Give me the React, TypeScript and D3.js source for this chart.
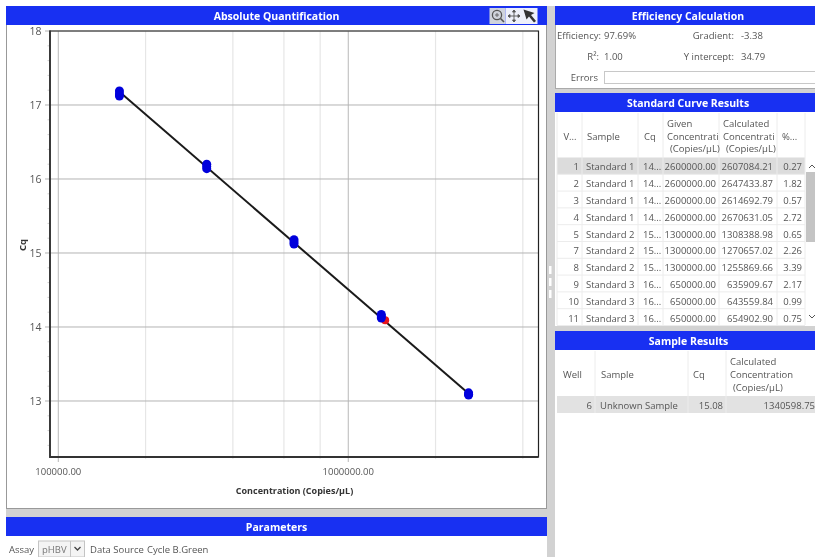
import React from "react";
import * as d3 from "d3";

const BLUE = "#1830f2";
const xMajorTicks = [100000, 1000000];
const xMinorTicks = [200000, 400000, 600000, 800000, 2000000, 4000000];
const yTicks = [13, 14, 15, 16, 17, 18];
const yMinorTicks = [12.4, 12.6, 12.8, 13.2, 13.4, 13.6, 13.8, 14.2, 14.4, 14.6, 14.8, 15.2, 15.4, 15.6, 15.8, 16.2, 16.4, 16.6, 16.8, 17.2, 17.4, 17.6, 17.8];
const standardConc = [162500, 162500, 162500, 325000, 325000, 325000, 650000, 650000, 650000, 1300000, 1300000, 1300000, 2600000, 2600000, 2600000];
const standardCq = [17.19, 17.15, 17.12, 16.2, 16.17, 16.14, 15.18, 15.15, 15.12, 14.17, 14.15, 14.12, 13.11, 13.09, 13.08];
const unknownConc = [1340598.75];
const unknownCq = [14.09];
const fitConc = [162500, 2600000];
const fitCq = [17.18, 13.1];

const stdHeaders: [string[], number][] = [
  [["V..."], 570],
  [["Sample"], 587],
  [["Cq"], 644],
  [["Given", "Concentrati", "(Copies/µL)"], 667],
  [["Calculated", "Concentrati", "(Copies/µL)"], 723],
  [["%..."], 782],
];
const wells = ["1", "2", "3", "4", "5", "7", "8", "9", "10", "11"];
const samples = ["Standard 1", "Standard 1", "Standard 1", "Standard 1", "Standard 2", "Standard 2", "Standard 2", "Standard 3", "Standard 3", "Standard 3"];
const cqs = ["14...", "14...", "14...", "14...", "15...", "15...", "15...", "16...", "16...", "16..."];
const given = ["2600000.00", "2600000.00", "2600000.00", "2600000.00", "1300000.00", "1300000.00", "1300000.00", "650000.00", "650000.00", "650000.00"];
const calculated = ["2607084.21", "2647433.87", "2614692.79", "2670631.05", "1308388.98", "1270657.02", "1255869.66", "635909.67", "643559.84", "654902.90"];
const percent = ["0.27", "1.82", "0.57", "2.72", "0.65", "2.26", "3.39", "2.17", "0.99", "0.75"];
const colEdges = [557, 582, 638, 663, 719, 777, 805];

const FONT = "'Open Sans', 'Noto Sans', sans-serif";
const TXT = "#555";

function Header({ x, y, w, h, label, cx }: { x: number; y: number; w: number; h: number; label: string; cx?: number }) {
  return (
    <g>
      <rect x={x} y={y} width={w} height={h} fill={BLUE} />
      <text x={cx ?? x + w / 2} y={y + h / 2 + 4} textAnchor="middle" fontWeight={700} fontSize={10.5} fill="#fff">{label}</text>
    </g>
  );
}

export default function App() {
  const L = 50, R = 538.5, T = 31, B = 457;
  const x = d3.scaleLog().domain([93630, 4530000]).range([L, R]);
  const y = d3.scaleLinear().domain([12.243, 18]).range([B, T]);
  const fit = d3.line<number>().x((d) => x(fitConc[d])).y((d) => y(fitCq[d]));
  const rowY = (i: number) => 157.5 + i * 16.8;
  return (
    <svg width={815} height={557} viewBox="0 0 815 557" fontFamily={FONT} fontSize={9.5} fill={TXT}
      style={{ position: "fixed", left: 0, top: 0, filter: "blur(0.35px)" }}>
      <rect width={815} height={557} fill="#d2d2d2" />
      <rect x={0} y={0} width={815} height={6} fill="#fff" />
      <rect x={0} y={0} width={6} height={557} fill="#fff" />

      {/* left chart panel */}
      <rect x={6.5} y={6.5} width={540} height={502} fill="#fff" stroke="#999" />
      <Header x={6} y={6} w={541} h={19} label="Absolute Quantification" />
      <g>
        <rect x={489.5} y={8} width={16} height={16} fill="#cfd3dc" />
        <rect x={505.5} y={8} width={32} height={16} fill="#eef0fa" />
        <circle cx={497} cy={15} r={4.6} fill="none" stroke="#555" strokeWidth={1.3} />
        <path d="M495 15h4M497 13v4" stroke="#555" strokeWidth={0.8} />
        <path d="M500.5 18.5l3.5 3.5" stroke="#555" strokeWidth={1.6} />
        <path d="M508 16h12M514 10v12M508 16l2-1.5v3zM520 16l-2-1.5v3zM514 10l-1.5 2h3zM514 22l-1.5-2h3z" stroke="#555" strokeWidth={0.9} fill="#555" />
        <path d="M523.5 9.5l11 3.5-3.5 2 5 6-2 1.5-5-6-2.5 3z" fill="#333" />
      </g>

      {xMinorTicks.map((t) => <line key={t} x1={x(t)} x2={x(t)} y1={T} y2={B + 2} stroke="#e6e6e6" strokeWidth={1.2} />)}
      {xMajorTicks.map((t) => <line key={t} x1={x(t)} x2={x(t)} y1={T} y2={B + 5} stroke="#b8b8b8" strokeWidth={1} />)}
      {yTicks.map((t) => <line key={t} x1={L - 5} x2={R} y1={y(t)} y2={y(t)} stroke="#b4b4b4" strokeWidth={1} />)}
      {yMinorTicks.map((t) => <line key={t} x1={L - 2.5} x2={L} y1={y(t)} y2={y(t)} stroke="#bbb" strokeWidth={0.7} />)}
      <path d={`M${L} ${T}H${R}V${B}H${L}Z`} fill="none" stroke="#222" strokeWidth={1.2} />
      <path d={`M${L} ${T - 0.5}V${B}H${R}`} fill="none" stroke="#333" strokeWidth={1.8} />

      {yTicks.map((t) => <text key={t} x={41.5} y={y(t) + 4} textAnchor="end" fontSize={10.5}>{t}</text>)}
      {xMajorTicks.map((t) => <text key={t} x={x(t)} y={475} textAnchor="middle" fontSize={9.5}>{t.toFixed(2)}</text>)}
      <text x={294.5} y={494} textAnchor="middle" fontWeight={700} fontSize={9} fill="#333">Concentration (Copies/µL)</text>
      <text transform="translate(26,245) rotate(-90)" textAnchor="middle" fontWeight={700} fontSize={9.5} fill="#333">Cq</text>

      <path d={fit([0, 1]) ?? ""} fill="none" stroke="#1a1a1a" strokeWidth={2} />
      {unknownConc.map((c, i) => <circle key={i} cx={x(c)} cy={y(unknownCq[i])} r={4} fill="#e8141c" />)}
      {standardConc.map((c, i) => <circle key={i} cx={x(c)} cy={y(standardCq[i])} r={4.5} fill="#0000dc" />)}

      {/* parameters panel */}
      <rect x={6} y={517} width={541} height={40} fill="#fff" />
      <Header x={6} y={517} w={541} h={19} label="Parameters" />
      <text x={9} y={553}>Assay</text>
      <rect x={38.5} y={541} width={46} height={16} fill="#f4f4f4" stroke="#c4c4c4" />
      <line x1={70.5} x2={70.5} y1={541} y2={557} stroke="#c4c4c4" />
      <text x={42} y={553} fill="#777">pHBV</text>
      <path d="M74.5 547l3 3 3-3" fill="none" stroke="#444" strokeWidth={1.3} />
      <text x={90} y={553}>Data Source</text>
      <text x={147} y={553}>Cycle B.Green</text>

      {/* efficiency panel */}
      <rect x={555.5} y={6.5} width={262} height={82} fill="#fff" stroke="#aaa" />
      <Header x={555} y={6} w={260} h={19} label="Efficiency Calculation" cx={688} />
      <text x={557} y={39}>Efficiency:</text>
      <text x={604} y={39}>97.69%</text>
      <text x={734} y={39} textAnchor="end">Gradient:</text>
      <text x={741} y={39}>-3.38</text>
      <text x={599} y={60} textAnchor="end">R²:</text>
      <text x={604} y={60}>1.00</text>
      <text x={734} y={60} textAnchor="end">Y intercept:</text>
      <text x={741} y={60}>34.79</text>
      <text x={598} y={81} textAnchor="end">Errors</text>
      <rect x={604.5} y={71.5} width={215} height={12} fill="#fff" stroke="#c8c8c8" />

      {/* standard curve panel */}
      <rect x={555} y={93} width={262} height={233} fill="#fff" />
      <Header x={555} y={93} w={260} h={19} label="Standard Curve Results" cx={688} />
      <rect x={557} y={157.5} width={248} height={16.8} fill="#dcdcdc" />
      {colEdges.map((e) => <line key={e} x1={e} x2={e} y1={113} y2={325} stroke="#ececec" />)}
      {wells.map((_, i) => <line key={i} x1={557} x2={805} y1={rowY(i + 1)} y2={rowY(i + 1)} stroke="#ececec" />)}
      {stdHeaders.map(([lines, hx], i) => (
        <text key={i} x={hx} y={lines.length === 1 ? 139.5 : 127} textAnchor={i === 0 ? "middle" : "start"}>
          {lines.map((l, j) => <tspan key={j} x={l.startsWith("(") ? hx + 3 : hx} dy={j === 0 ? 0 : 12.5}>{l}</tspan>)}
        </text>
      ))}
      {wells.map((w, i) => (
        <g key={w}>
          <text x={579} y={rowY(i) + 12.8} textAnchor="end">{w}</text>
          <text x={586} y={rowY(i) + 12.8}>{samples[i]}</text>
          <text x={643} y={rowY(i) + 12.8}>{cqs[i]}</text>
          <text x={716} y={rowY(i) + 12.8} textAnchor="end">{given[i]}</text>
          <text x={773} y={rowY(i) + 12.8} textAnchor="end">{calculated[i]}</text>
          <text x={802} y={rowY(i) + 12.8} textAnchor="end">{percent[i]}</text>
        </g>
      ))}
      <rect x={806} y={172} width={9} height={70} fill="#c4c4c4" />
      <path d="M809 168l3-3 3 3M809 315l3 3 3-3" fill="none" stroke="#555" strokeWidth={1} />

      {/* sample panel */}
      <rect x={555} y={331} width={262} height={226} fill="#fff" />
      <Header x={555} y={331} w={260} h={19} label="Sample Results" cx={688.5} />
      <rect x={557} y={396} width={260} height={17} fill="#e2e2e2" />
      {[595, 688, 726].map((e) => <line key={e} x1={e} x2={e} y1={351} y2={413} stroke="#ececec" />)}
      <text x={563} y={378}>Well</text>
      <text x={601} y={378}>Sample</text>
      <text x={693} y={378}>Cq</text>
      <text x={730} y={365}>Calculated</text>
      <text x={730} y={378}>Concentration</text>
      <text x={733} y={391}>(Copies/µL)</text>
      <text x={592} y={408.5} textAnchor="end">6</text>
      <text x={600} y={408.5}>Unknown Sample</text>
      <text x={723} y={408.5} textAnchor="end">15.08</text>
      <text x={815} y={408.5} textAnchor="end">1340598.75</text>

      {/* splitter grip */}
      {[266, 278, 290].map((g) => <rect key={g} x={549} y={g} width={2.5} height={8} fill="#fff" />)}
    </svg>
  );
}
